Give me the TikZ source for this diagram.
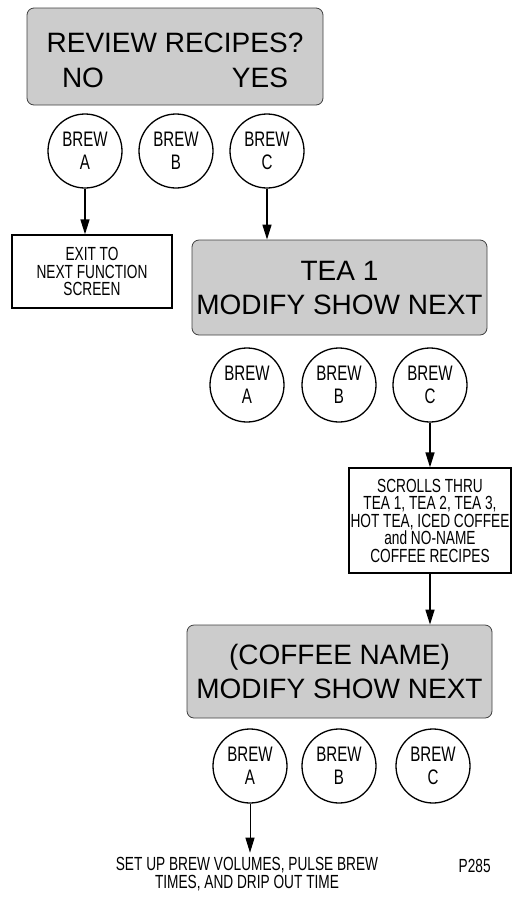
\documentclass[tikz,border=0pt]{standalone}
\usepackage{fontspec}
\setmainfont{Liberation Sans}
\newfontfamily\narrowfont[FakeStretch=0.72]{Liberation Sans}
\usetikzlibrary{arrows.meta}

\tikzset{
  screen/.style={draw=black!75, fill=black!20, rounded corners=7pt, line width=0.8pt, inner sep=0pt},
  bigtext/.style={font=\fontsize{28pt}{34pt}\selectfont, align=center},
  button/.style={draw, circle, line width=1.3pt, minimum size=74pt, inner sep=0pt, align=center,
    font=\narrowfont\fontsize{21pt}{23pt}\selectfont},
  notebox/.style={draw, line width=1.3pt, inner sep=0pt, align=center,
    font=\narrowfont\fontsize{19pt}{17.5pt}\selectfont},
}

\begin{document}
\begin{tikzpicture}[x=1pt, y=-1pt, >={Triangle[length=15pt,width=9pt]}, line width=1.4pt]
  \useasboundingbox (0,0) rectangle (515,898);
  % review screen
  \node[screen, minimum width=296pt, minimum height=97pt] (review) at (175,56.5) {};
  \node[bigtext] (reviewtxt) at (175,43) {REVIEW RECIPES?};
  \node[bigtext] (no) at (83,78) {NO};
  \node[bigtext] (yes) at (260,78) {YES};
  % buttons, first row
  \node[button] (brewA1) at (85,151) {BREW\\A};
  \node[button] (brewB1) at (176,151) {BREW\\B};
  \node[button] (brewC1) at (267,151) {BREW\\C};
  % exit
  \node[notebox, minimum width=160pt, minimum height=73pt] (exit) at (92,271.5)
    {EXIT TO\\NEXT FUNCTION\\SCREEN};
  \draw[->] (brewA1) -- (brewA1 |- exit.north);
  % tea screen
  \node[screen, bigtext, minimum width=295pt, minimum height=95pt] (tea) at (339.5,287.5)
    {TEA 1\\MODIFY SHOW NEXT};
  \draw[->] (brewC1) -- (brewC1 |- tea.north);
  % buttons, second row
  \node[button] (brewA2) at (247,385) {BREW\\A};
  \node[button] (brewB2) at (339,385) {BREW\\B};
  \node[button] (brewC2) at (430,385) {BREW\\C};
  % scrolling
  \node[notebox, minimum width=162pt, minimum height=105pt] (scroll) at (430,520.5)
    {SCROLLS THRU\\TEA 1, TEA 2, TEA 3,\\HOT TEA, ICED COFFEE\\and NO-NAME\\COFFEE RECIPES};
  \draw[->] (brewC2) -- (scroll);
  % coffee screen
  \node[screen, bigtext, minimum width=305pt, minimum height=93pt] (coffee) at (339.5,671.5)
    {(COFFEE NAME)\\MODIFY SHOW NEXT};
  \draw[->] (scroll) -- (scroll |- coffee.north);
  % buttons, third row
  \node[button] (brewA3) at (250,766) {BREW\\A};
  \node[button] (brewB3) at (339,766) {BREW\\B};
  \node[button] (brewC3) at (433,766) {BREW\\C};
  % set up
  \node[align=center, inner sep=4pt, font=\narrowfont\fontsize{19pt}{17.5pt}\selectfont] (setup) at (247,874)
    {SET UP BREW VOLUMES, PULSE BREW\\TIMES, AND DRIP OUT TIME};
  \draw[->, line width=1pt] (brewA3) -- (brewA3 |- setup.north);
  \node[anchor=west, inner sep=0pt, font=\narrowfont\fontsize{19pt}{17.5pt}\selectfont] (fig) at (458,866) {P285};
\end{tikzpicture}
\end{document}
